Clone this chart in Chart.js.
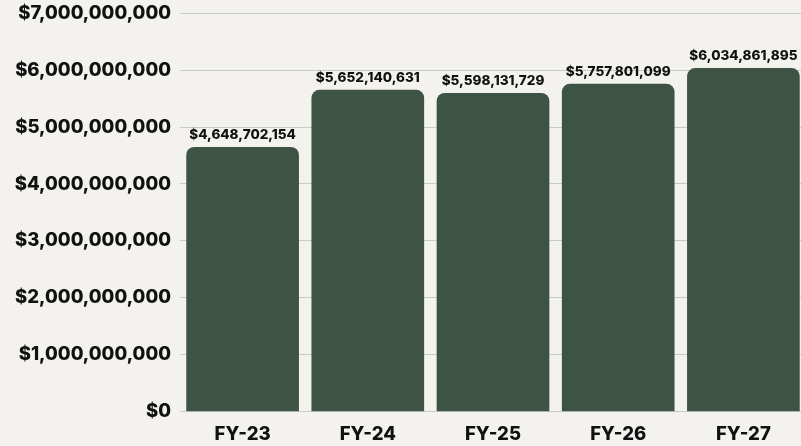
<!DOCTYPE html>
<html>
<head>
<meta charset="utf-8">
<script src="https://cdn.jsdelivr.net/npm/chart.js@4"></script>
<style>
  html, body { margin: 0; padding: 0; overflow: hidden; background: #f3f2ee; }
  #wrap { width: 806px; height: 457px; margin-top: -7px; }
</style>
</head>
<body>
<div id="wrap"><canvas id="budgetChart"></canvas></div>
<script>
// Budget per fiscal year
const years = ['FY-23', 'FY-24', 'FY-25', 'FY-26', 'FY-27'];
const amounts = [4648702154, 5652140631, 5598131729, 5757801099, 6034861895];
const yTicks = [0, 1000000000, 2000000000, 3000000000, 4000000000, 5000000000, 6000000000, 7000000000];

const fmt = v => '$' + Math.round(v).toLocaleString('en-US');
const FONT = 'Inter, "DejaVu Sans", sans-serif';

// value labels above bars
const barLabels = {
  id: 'barLabels',
  afterDatasetsDraw(chart) {
    const ctx = chart.ctx;
    const meta = chart.getDatasetMeta(0);
    ctx.save();
    ctx.font = '800 13.5px ' + FONT;
    ctx.fillStyle = '#111';
    ctx.textAlign = 'center';
    ctx.textBaseline = 'bottom';
    meta.data.forEach((bar, i) => {
      ctx.fillText(fmt(amounts[i]), bar.x, bar.y - 5);
    });
    ctx.restore();
  }
};

new Chart(document.getElementById('budgetChart'), {
  type: 'bar',
  data: {
    labels: years,
    datasets: [{
      data: amounts,
      backgroundColor: '#3d5444',
      borderRadius: { topLeft: 8, topRight: 8, bottomLeft: 0, bottomRight: 0 },
      borderSkipped: 'bottom',
      barPercentage: 0.9,
      categoryPercentage: 1
    }]
  },
  options: {
    responsive: true,
    maintainAspectRatio: false,
    animation: false,
    layout: { padding: { top: 0, right: 0, bottom: 0, left: 0 } },
    plugins: { legend: { display: false }, tooltip: { enabled: false } },
    scales: {
      x: {
        grid: { display: false },
        border: { display: false },
        ticks: {
          color: '#111',
          padding: 4,
          font: { family: FONT, size: 18.5, weight: '800' }
        }
      },
      y: {
        min: 0,
        max: 7000000000,
        afterBuildTicks: axis => { axis.ticks = yTicks.map(v => ({ value: v })); },
        afterFit: axis => { axis.width = 180; },
        grid: { color: '#c9c9c6', lineWidth: 1, drawTicks: false },
        border: { display: false },
        ticks: {
          color: '#111',
          padding: 9,
          font: { family: FONT, size: 18.5, weight: '800' },
          callback: v => fmt(v)
        }
      }
    }
  },
  plugins: [barLabels]
});
</script>
</body>
</html>
